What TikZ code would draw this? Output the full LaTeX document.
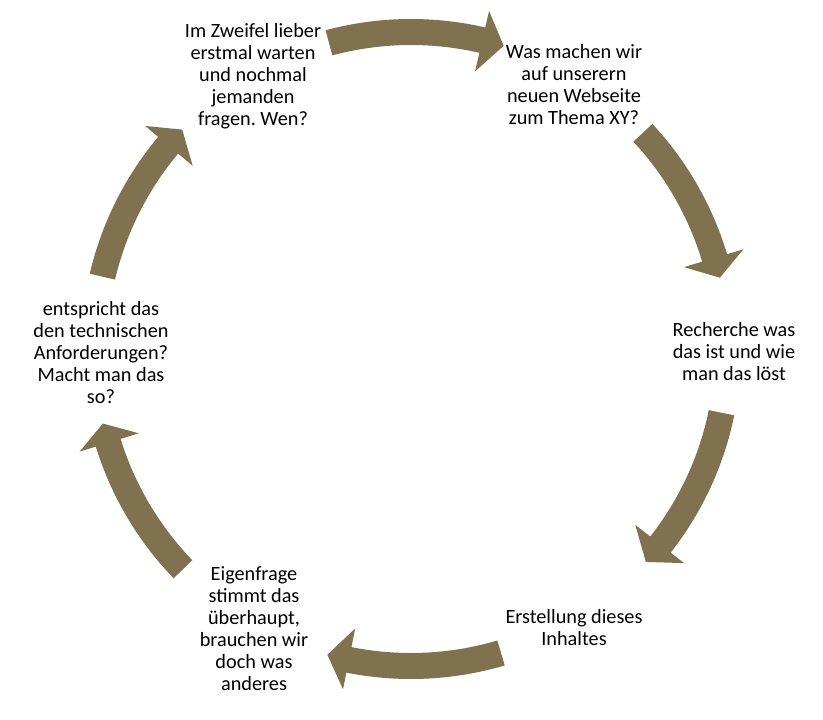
\documentclass[tikz,border=0pt]{standalone}
\usepackage{fontspec}
\setmainfont{Carlito}
\frenchspacing
\definecolor{arrowc}{RGB}{128,114,78}
\tikzset{
  arrowfill/.style={fill=arrowc, draw=none},
  lbl/.style={align=center, inner sep=0pt, text=black, font=\fontsize{15.2}{16.5}\selectfont}
}
% tail angle, base angle of head, tip angle (clockwise arrow)
\newcommand\CycArrow[3]{%
  \fill[arrowfill] (#1:247.5pt) arc[start angle=#1, end angle=#2, radius=247.5pt]
    -- (#2:260.25pt) -- (#3:237.75pt) -- (#2:213.75pt) -- (#2:228pt)
    arc[start angle=#2, end angle=#1, radius=228pt] -- cycle;}
\begin{document}
\begin{tikzpicture}[x=0.75pt,y=-0.75pt]
\useasboundingbox (0,0) rectangle (823,719);
\begin{scope}[shift={(411,349)}]
  \CycArrow{105}{77}{73}
  \CycArrow{43}{16.7}{13}
  \CycArrow{-11.6}{-38.1}{-42.2}
  \CycArrow{-73.5}{-101.3}{-105.3}
  \CycArrow{224}{197.2}{193.6}
  \CycArrow{166.8}{140}{136.2}
\end{scope}
\node[lbl] (n1) at (253,76) {Im Zweifel lieber\\erstmal warten\\und nochmal\\jemanden\\fragen. Wen?};
\node[lbl] (n2) at (574,85) {Was machen wir\\auf unserern\\neuen Webseite\\zum Thema XY?};
\node[lbl] (n3) at (734,352) {Recherche was\\das ist und wie\\man das löst};
\node[lbl] (n4) at (574,628) {Erstellung dieses\\Inhaltes};
\node[lbl] (n5) at (254,629) {Eigenfrage\\stimmt das\\überhaupt,\\brauchen wir\\doch was\\anderes};
\node[lbl] (n6) at (101,353) {entspricht das\\den technischen\\Anforderungen?\\Macht man das\\so?};
\end{tikzpicture}
\end{document}
